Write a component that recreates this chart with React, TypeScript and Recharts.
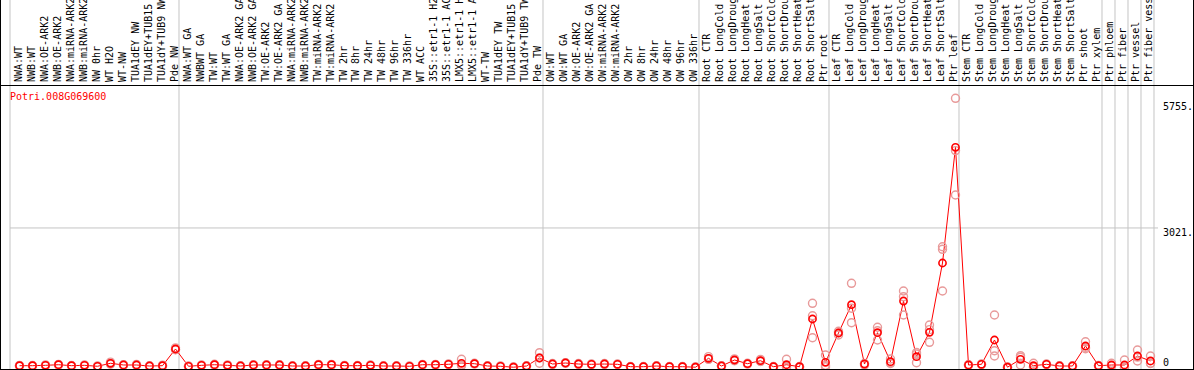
import React from "react";
import { ComposedChart, Line, XAxis, YAxis, ReferenceLine } from "recharts";

const labels = [
  "NWA:WT", "NWB:WT", "NWA:OE-ARK2", "NWB:OE-ARK2", "NWA:miRNA-ARK2", "NWB:miRNA-ARK2", "NW 0hr", "WT H2O", "WT-NW",
  "TUA1dEY NW", "TUA1dEY+TUB15 NW", "TUA1dY+TUB9 NW", "Pde NW",
  "NWA:WT GA", "NWBWT GA", "TW:WT", "TW:WT GA", "NWA:OE-ARK2 GA", "NWB:OE-ARK2 GA", "TW:OE-ARK2", "TW:OE-ARK2 GA",
  "NWA:miRNA-ARK2", "NWB:miRNA-ARK2", "TW:miRNA-ARK2", "TW:miRNA-ARK2", "TW 2hr", "TW 8hr", "TW 24hr", "TW 48hr",
  "TW 96hr", "TW 336hr", "WT ACC", "35S::etr1-1 H2O", "35S::etr1-1 ACC", "LMX5::etr1-1 H2O", "LMX5::etr1-1 ACC",
  "WT-TW", "TUA1dEY TW", "TUA1dEY+TUB15 TW", "TUA1dY+TUB9 TW", "Pde TW",
  "OW:WT", "OW:WT GA", "OW:OE-ARK2", "OW:OE-ARK2 GA", "OW:miRNA-ARK2", "OW:miRNA-ARK2", "OW 2hr", "OW 8hr",
  "OW 24hr", "OW 48hr", "OW 96hr", "OW 336hr",
  "Root CTR", "Root LongCold", "Root LongDrought", "Root LongHeat", "Root LongSalt", "Root ShortCold",
  "Root ShortDrought", "Root ShortHeat", "Root ShortSalt", "Ptr root",
  "Leaf CTR", "Leaf LongCold", "Leaf LongDrought", "Leaf LongHeat", "Leaf LongSalt", "Leaf ShortCold",
  "Leaf ShortDrought", "Leaf ShortHeat", "Leaf ShortSalt", "Ptr leaf",
  "Stem CTR", "Stem LongCold", "Stem LongDrought", "Stem LongHeat", "Stem LongSalt", "Stem ShortCold",
  "Stem ShortDrought", "Stem ShortHeat", "Stem ShortSalt", "Ptr shoot", "Ptr xylem",
  "Ptr phloem", "Ptr fiber", "Ptr vessel", "Ptr fiber vessel",
];

// mean expression per sample
const means = [
  33, 33, 41, 54, 33, 41, 20, 85, 48, 48, 26, 33, 395,
  20, 41, 54, 41, 26, 48, 48, 48, 26, 26, 54, 54, 33, 33, 41, 26, 26, 20, 54, 54, 63, 85, 76, 26, 20, 0, 26, 200,
  69, 91, 69, 63, 69, 63, 11, 11, 26, 11, 11, 0,
  193, 26, 156, 76, 141, 11, 54, 11, 1046, 106,
  742, 1356, 69, 749, 119, 1436, 228, 757, 2261, 4771,
  48, 63, 590, 0, 171, 33, 63, 26, 26, 460, 33,
  48, 48, 243, 135,
];

// replicates
const rep1 = [
  40, 38, 50, 60, 38, 48, 25, 110, 55, 60, 30, 45, 420,
  25, 48, 65, 50, 30, 55, 55, 55, 30, 30, 62, 60, 40, 38, 48, 30, 30, 25, 60, 62, 70, 171, 85, 30, 25, 5, 30, 315,
  80, 100, 80, 70, 80, 70, 15, 15, 30, 15, 15, 3,
  230, 30, 180, 85, 170, 15, 171, 15, 1386, 265,
  700, 1820, 80, 866, 178, 1653, 98, 916, 2614, 5834,
  55, 70, 1133, 3, 215, 85, 70, 30, 30, 553, 38,
  85, 156, 373, 243,
];
const rep2 = [
  28, 30, 35, 50, 30, 36, 18, 80, 45, 42, 24, 28, 380,
  18, 36, 48, 36, 22, 42, 44, 42, 24, 22, 48, 50, 28, 30, 36, 22, 24, 16, 50, 48, 58, 50, 70, 22, 18, 0, 22, 200,
  62, 85, 62, 58, 62, 58, 8, 8, 22, 8, 8, 0,
  180, 22, 140, 70, 130, 8, 20, 8, 1117, 11,
  780, 966, 50, 590, 100, 1133, 286, 540, 2558, 3736,
  42, 58, 358, 0, 48, 10, 58, 22, 22, 400, 30,
  30, 0, 135, 85,
];
const rep3 = [
  31, 31, 38, 52, 31, 39, 17, 65, 44, 42, 24, 26, 385,
  17, 39, 49, 37, 26, 47, 45, 47, 24, 26, 52, 52, 31, 31, 39, 26, 24, 19, 52, 52, 61, 34, 73, 26, 17, 0, 26, 85,
  65, 88, 65, 61, 65, 61, 10, 10, 26, 10, 10, 0,
  170, 26, 148, 73, 123, 10, 0, 10, 640, 40,
  745, 1280, 77, 790, 80, 1530, 320, 815, 1653, 4700,
  47, 61, 243, 0, 250, 5, 61, 26, 26, 430, 31,
  30, 0, 220, 80,
];

// number of samples before each group separator
const groupEdges = [0, 13, 41, 53, 63, 73, 84, 85, 86, 87, 88];
const yTicks = [0, 3021, 5755];

const GENE = "Potri.008G069600";
const MONO = "'DejaVu Sans Mono', monospace";
const X0 = -0.7308;
const X1 = 87.577;

const data = labels.map((label, i) => ({
  idx: i,
  label,
  mean: means[i],
  r1: rep1[i],
  r2: rep2[i],
  r3: rep3[i],
}));

// sample names drawn at each sample's x position, rotated, above the plot
const labelDot = (p: any) => (
  <text
    key={`l${p.index}`}
    transform={`translate(${p.cx + 2},82) rotate(-90)`}
    fontFamily={MONO}
    fontSize={10}
    fill="#000"
  >
    {p.payload.label}
  </text>
);

const ValueTick = ({ y, payload }: any) => (
  <text x={1163} y={Math.min(y + 8.5, 366)} fontFamily={MONO} fontSize={10} fill="#000">
    {payload.value === 0 ? "0" : `${payload.value}.`}
  </text>
);

const meanDot = (p: any) => (
  <circle key={`m${p.index}`} cx={p.cx} cy={p.cy} r={3.6} fill="none" stroke="#ff0000" strokeWidth={1.6} />
);
const repDot = (p: any) => (
  <circle key={`r${p.index}`} cx={p.cx} cy={p.cy} r={4} fill="none" stroke="#e89a9a" strokeWidth={1.4} />
);

const hline = (top: number): React.CSSProperties => ({
  position: "absolute", left: 0, top, width: 1194, height: 1, background: "#000",
});

export default function App() {
  return (
    <div style={{ position: "absolute", left: 0, top: 0, width: 1194, height: 370, background: "#fff", overflow: "hidden" }}>
      <ComposedChart width={1194} height={370} data={data} margin={{ top: 0, right: 0, bottom: 1, left: 10 }}>
        {groupEdges.map(g => (
          <ReferenceLine key={g} x={g + X0} stroke="#c4c4c4" strokeWidth={1} />
        ))}
        <ReferenceLine y={3021} stroke="#c4c4c4" strokeWidth={1} />
        <XAxis dataKey="idx" type="number" domain={[X0, X1]} hide allowDataOverflow />
        <YAxis
          orientation="right"
          width={36}
          domain={[-39, 7967]}
          ticks={yTicks}
          interval={0}
          axisLine={false}
          tickLine={false}
          tick={ValueTick}
          allowDataOverflow
        />
        <Line dataKey="mean" stroke="none" dot={labelDot} activeDot={false} isAnimationActive={false} />
        <Line dataKey="r1" stroke="none" dot={repDot} activeDot={false} isAnimationActive={false} />
        <Line dataKey="r2" stroke="none" dot={repDot} activeDot={false} isAnimationActive={false} />
        <Line dataKey="r3" stroke="none" dot={repDot} activeDot={false} isAnimationActive={false} />
        <Line dataKey="mean" type="linear" stroke="#ff0000" strokeWidth={1} dot={meanDot} activeDot={false} isAnimationActive={false} />
      </ComposedChart>
      <div style={{ position: "absolute", left: 10, top: 91, fontFamily: MONO, fontSize: 10, lineHeight: "12px", color: "#ff0000" }}>
        {GENE}
      </div>
      <div style={hline(85)} />
      <div style={hline(369)} />
      <div style={{ position: "absolute", left: 0, top: 0, width: 1, height: 370, background: "#000" }} />
      <div style={{ position: "absolute", left: 1193, top: 0, width: 1, height: 370, background: "#000" }} />
    </div>
  );
}
